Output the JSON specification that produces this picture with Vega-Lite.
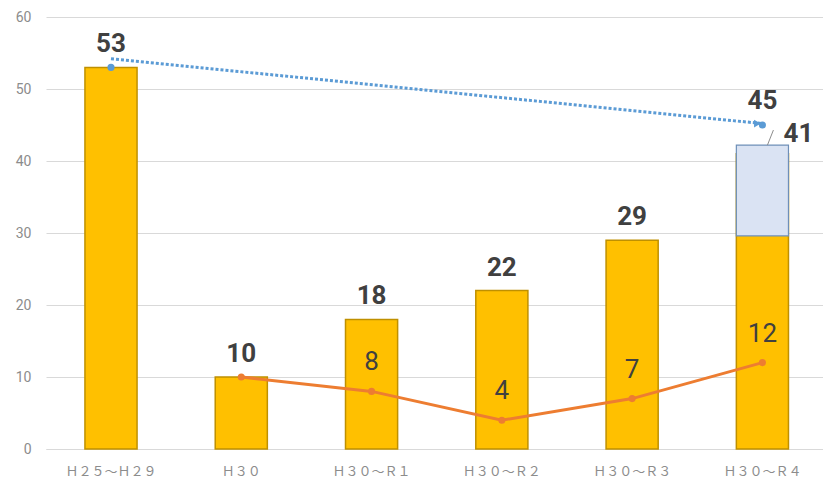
{
  "$schema": "https://vega.github.io/schema/vega-lite/v6.json",
  "width": 777,
  "height": 432,
  "autosize": "none",
  "padding": {"left": 46, "top": 17, "right": 0, "bottom": 35},
  "background": "white",
  "config": {
    "view": {"stroke": null},
    "font": "Roboto",
    "axis": {"title": null}
  },
  "datasets": {
    "bars": [
      {"period": "Ｈ２５～Ｈ２９", "total": 53},
      {"period": "Ｈ３０", "total": 10},
      {"period": "Ｈ３０～Ｒ１", "total": 18},
      {"period": "Ｈ３０～Ｒ２", "total": 22},
      {"period": "Ｈ３０～Ｒ３", "total": 29},
      {"period": "Ｈ３０～Ｒ４", "total": 41}
    ],
    "yearly": [
      {"period": "Ｈ３０", "count": 10},
      {"period": "Ｈ３０～Ｒ１", "count": 8},
      {"period": "Ｈ３０～Ｒ２", "count": 4},
      {"period": "Ｈ３０～Ｒ３", "count": 7},
      {"period": "Ｈ３０～Ｒ４", "count": 12}
    ],
    "trend": [
      {"period": "Ｈ２５～Ｈ２９", "marker": 53, "line": 54.2},
      {"period": "Ｈ３０～Ｒ４", "marker": 45, "line": 45.2}
    ],
    "box": [
      {"period": "Ｈ３０～Ｒ４", "low": 29.6, "high": 42.2, "leaderLow": 42.2, "leaderHigh": 44.3}
    ]
  },
  "encoding": {
    "x": {
      "field": "period",
      "type": "nominal",
      "sort": null,
      "title": null,
      "scale": {
        "domain": ["Ｈ２５～Ｈ２９", "Ｈ３０", "Ｈ３０～Ｒ１", "Ｈ３０～Ｒ２", "Ｈ３０～Ｒ３", "Ｈ３０～Ｒ４"],
        "paddingInner": 0.6,
        "paddingOuter": 0.282,
        "align": 0.53
      },
      "axis": {
        "labelAngle": 0,
        "labelFont": "Noto Sans CJK JP",
        "labelFontSize": 13,
        "labelColor": "#8c8c8c",
        "labelPadding": 16,
        "ticks": false,
        "domain": true,
        "domainColor": "#d9d9d9",
        "domainWidth": 1,
        "grid": false
      }
    }
  },
  "layer": [
    {
      "data": {"name": "bars"},
      "mark": {"type": "bar", "fill": "#FFC000", "stroke": "#BF9000", "strokeWidth": 1.5},
      "encoding": {
        "y": {
          "field": "total",
          "type": "quantitative",
          "title": null,
          "scale": {"domain": [0, 60], "nice": false},
          "axis": {
            "values": [0, 10, 20, 30, 40, 50, 60],
            "labelFontSize": 14,
            "labelColor": "#8c8c8c",
            "labelPadding": 15,
            "ticks": false,
            "domain": false,
            "grid": true,
            "gridColor": "#d9d9d9",
            "gridWidth": 1
          }
        }
      }
    },
    {
      "data": {"name": "box"},
      "mark": {"type": "bar", "fill": "#DAE3F3", "stroke": "#6E8FB8", "strokeWidth": 1.2},
      "encoding": {
        "y": {"field": "low", "type": "quantitative", "title": null},
        "y2": {"field": "high"}
      }
    },
    {
      "data": {"name": "box"},
      "mark": {"type": "rule", "stroke": "#8c8c8c", "strokeWidth": 1, "xOffset": 5, "x2Offset": 11},
      "encoding": {
        "x2": {"field": "period"},
        "y": {"field": "leaderLow", "type": "quantitative", "title": null},
        "y2": {"field": "leaderHigh"}
      }
    },
    {
      "data": {"name": "bars"},
      "transform": [{"filter": "datum.period !== 'Ｈ３０～Ｒ４'"}],
      "mark": {"type": "text", "fontSize": 26, "fontWeight": "bold", "color": "#404040", "baseline": "alphabetic", "dy": -15},
      "encoding": {
        "y": {"field": "total", "type": "quantitative", "title": null},
        "text": {"field": "total", "type": "quantitative"}
      }
    },
    {
      "data": {"name": "bars"},
      "transform": [{"filter": "datum.period === 'Ｈ３０～Ｒ４'"}],
      "mark": {"type": "text", "fontSize": 26, "fontWeight": "bold", "color": "#404040", "baseline": "alphabetic", "dy": -12, "dx": 36},
      "encoding": {
        "y": {"field": "total", "type": "quantitative", "title": null},
        "text": {"field": "total", "type": "quantitative"}
      }
    },
    {
      "data": {"name": "yearly"},
      "mark": {"type": "line", "color": "#ED7D31", "strokeWidth": 3, "point": {"filled": true, "size": 50, "color": "#ED7D31"}},
      "encoding": {
        "y": {"field": "count", "type": "quantitative", "title": null}
      }
    },
    {
      "data": {"name": "yearly"},
      "transform": [{"filter": "datum.period !== 'Ｈ３０'"}],
      "mark": {"type": "text", "fontSize": 26, "fontWeight": "normal", "color": "#404040", "baseline": "alphabetic", "dy": -21},
      "encoding": {
        "y": {"field": "count", "type": "quantitative", "title": null},
        "text": {"field": "count", "type": "quantitative"}
      }
    },
    {
      "data": {"name": "trend"},
      "mark": {"type": "line", "color": "#5B9BD5", "strokeWidth": 3, "strokeDash": [3, 2]},
      "encoding": {
        "y": {"field": "line", "type": "quantitative", "title": null}
      }
    },
    {
      "data": {"name": "trend"},
      "mark": {"type": "point", "filled": true, "size": 50, "color": "#5B9BD5", "opacity": 1},
      "encoding": {
        "y": {"field": "marker", "type": "quantitative", "title": null}
      }
    },
    {
      "data": {"name": "trend"},
      "transform": [{"filter": "datum.period === 'Ｈ３０～Ｒ４'"}],
      "mark": {"type": "point", "shape": "triangle-right", "filled": true, "size": 60, "color": "#5B9BD5", "opacity": 1, "xOffset": -5},
      "encoding": {
        "y": {"field": "line", "type": "quantitative", "title": null}
      }
    },
    {
      "data": {"name": "trend"},
      "transform": [{"filter": "datum.period === 'Ｈ３０～Ｒ４'"}],
      "mark": {"type": "text", "fontSize": 26, "fontWeight": "bold", "color": "#404040", "baseline": "alphabetic", "dy": -16},
      "encoding": {
        "y": {"field": "marker", "type": "quantitative", "title": null},
        "text": {"field": "marker", "type": "quantitative"}
      }
    }
  ]
}
